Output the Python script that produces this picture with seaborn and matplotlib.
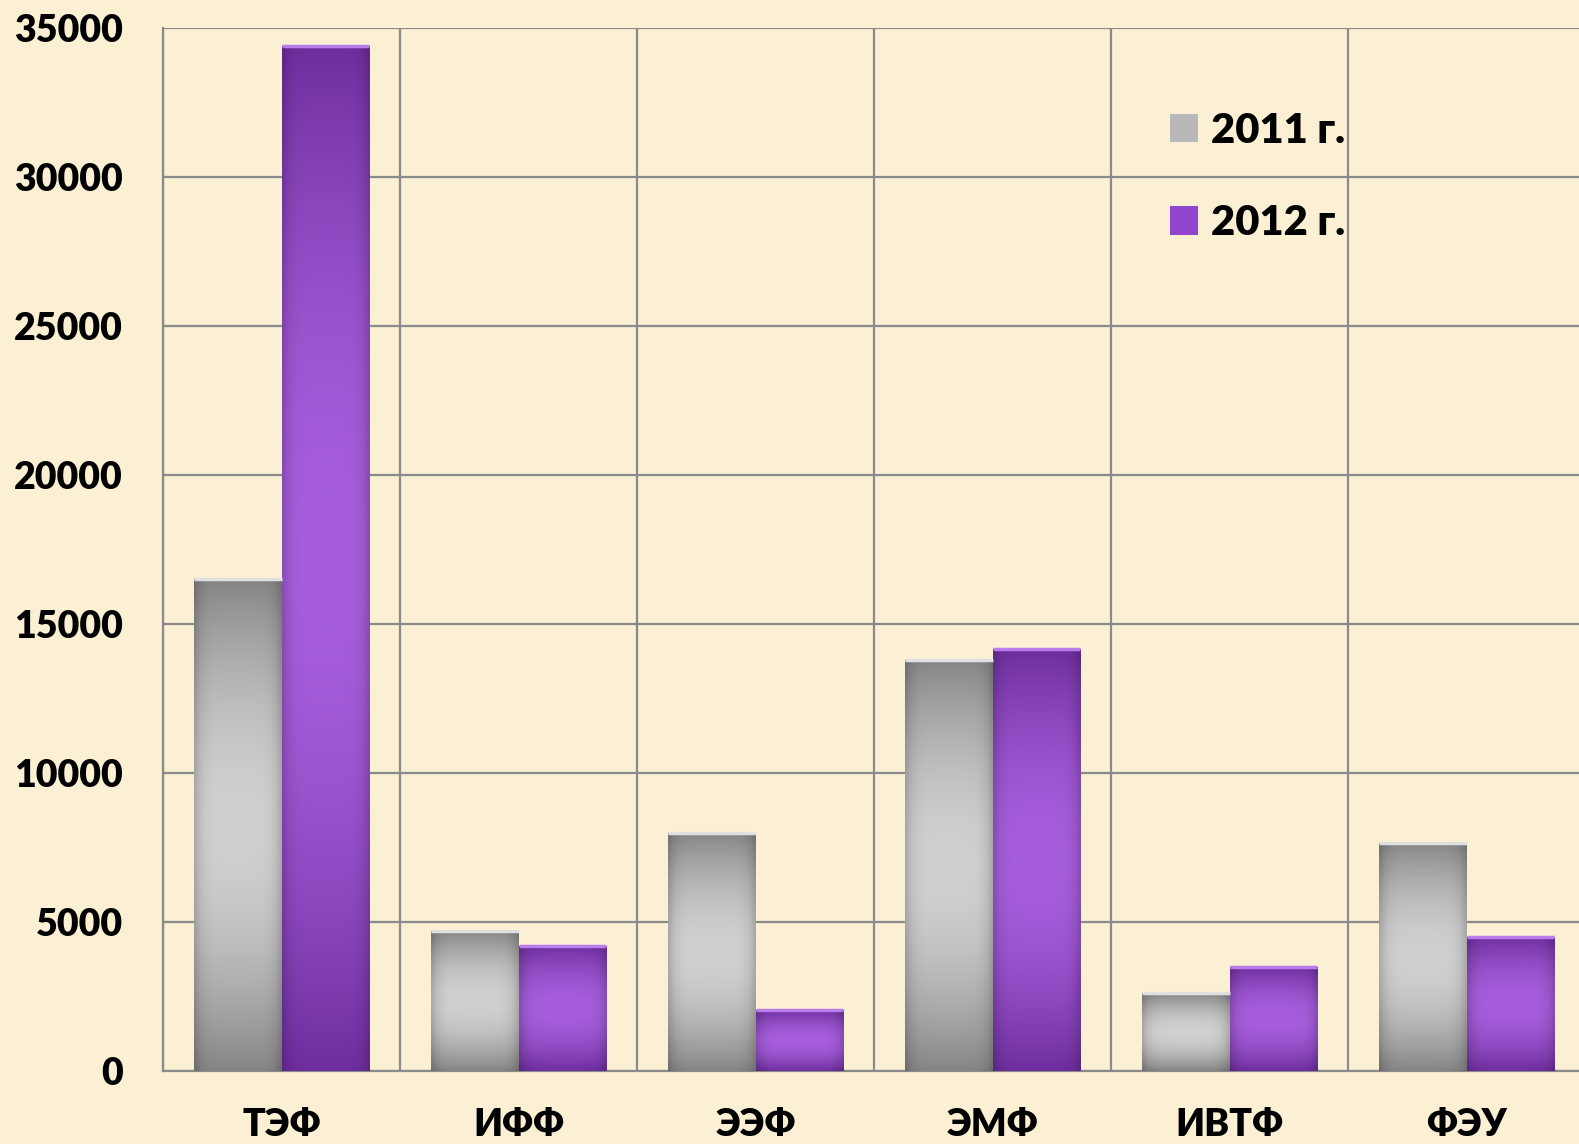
import numpy as np
import pandas as pd
import matplotlib
matplotlib.use("Agg")
import matplotlib.pyplot as plt
import seaborn as sns
from matplotlib.patches import Patch

faculties = ["ТЭФ", "ИФФ", "ЭЭФ", "ЭМФ", "ИВТФ", "ФЭУ"]
years = ["2011 г.", "2012 г."]
values_2011 = [16500, 4700, 8000, 13800, 2600, 7650]
values_2012 = [34400, 4200, 2030, 14150, 3500, 4500]
yticks = [0, 5000, 10000, 15000, 20000, 25000, 30000, 35000]

df = pd.DataFrame({
    "faculty": faculties * 2,
    "year": [years[0]] * len(faculties) + [years[1]] * len(faculties),
    "value": values_2011 + values_2012,
})

sns.set_theme(style="white")
plt.rcParams["font.family"] = ["Lato", "DejaVu Sans"]
plt.rcParams["text.color"] = "black"

W, H = 1579, 1144
bg = "#FBF0D4"
grid_c = "#8A8A8A"
fig = plt.figure(figsize=(W / 100, H / 100), dpi=100)
fig.patch.set_facecolor(bg)
left, bottom, top = 163, 1071, 27.7
ax = fig.add_axes([left / W, (H - bottom) / H, 1 - left / W, (bottom - top) / H])
ax.set_facecolor(bg)

gray_mid = "#ABABAB"
purple_mid = "#8E44C8"
sns.barplot(data=df, x="faculty", y="value", hue="year", palette=[gray_mid, purple_mid],
            width=0.74, gap=0, saturation=1, ax=ax, legend=False, zorder=3,
            edgecolor="none", linewidth=0)

cat_px = 237
ax.set_xlim(-0.5, -0.5 + (W - left) / cat_px)
ax.set_ylim(0, 35000)
ax.set_yticks(yticks)
ax.set_yticklabels([str(v) for v in yticks])
ax.set_xticks(range(len(faculties)))
ax.set_xticklabels(faculties)
ax.set_xticks([i - 0.5 for i in range(len(faculties) + 1)], minor=True)
ax.grid(axis="y", which="major", color=grid_c, linewidth=1.6, zorder=0)
ax.grid(axis="x", which="minor", color=grid_c, linewidth=1.6, zorder=0)
ax.set_axisbelow(True)
ax.tick_params(axis="both", which="both", length=0)
ax.tick_params(axis="y", pad=29)
ax.tick_params(axis="x", pad=27)
for lab in ax.get_yticklabels() + ax.get_xticklabels():
    lab.set_fontsize(27)
    lab.set_fontweight("heavy")
    lab.set_color("black")
ax.set_xlabel("")
ax.set_ylabel("")
for s in ["top", "right"]:
    ax.spines[s].set_visible(False)
for s in ["left", "bottom"]:
    ax.spines[s].set_color(grid_c)
    ax.spines[s].set_linewidth(1.6)

# gradient shading on each bar
def shade(dark, light):
    dark = np.array(matplotlib.colors.to_rgb(dark))
    light = np.array(matplotlib.colors.to_rgb(light))
    n, m = 200, 40
    t = np.linspace(0, 1, n)[:, None]
    s = np.linspace(0, 1, m)[None, :]
    f = np.sin(np.pi * t) ** 0.9
    img = dark + (light - dark) * f[..., None]
    edge = 1 - 0.18 * np.abs(2 * s - 1) ** 6
    img = img * edge[..., None]
    return np.clip(img, 0, 1)

gray_img = shade("#858585", "#D0D0D0")
purple_img = shade("#6E2E9E", "#A65EDC")
mid_gray = np.array(matplotlib.colors.to_rgb(gray_mid))
for p in ax.patches:
    h = p.get_height()
    if h <= 0:
        continue
    fc = np.array(p.get_facecolor()[:3])
    img = gray_img if np.allclose(fc, mid_gray, atol=0.05) else purple_img
    x0, y0, w = p.get_x(), p.get_y(), p.get_width()
    im = ax.imshow(img, extent=[x0, x0 + w, y0, y0 + h], aspect="auto",
                   origin="upper", zorder=4, interpolation="bilinear")
    im.set_clip_path(p)
    ax.plot([x0, x0 + w], [y0 + h, y0 + h], color="#E0E0E0" if img is gray_img else "#B97CEB",
            linewidth=2.5, zorder=5, solid_capstyle="butt")
ax.set_xlim(-0.5, -0.5 + (W - left) / cat_px)
ax.set_ylim(0, 35000)

handles = [Patch(facecolor="#B8B8B8", edgecolor="none"),
           Patch(facecolor="#9046CC", edgecolor="none")]
leg = fig.legend(handles, years, loc="upper left", bbox_to_anchor=(1170 / W, 1 - 112 / H),
                 bbox_transform=fig.transFigure, frameon=False, borderpad=0, borderaxespad=0,
                 handlelength=0.66, handleheight=0.66, handletextpad=0.32, labelspacing=1.3,
                 prop={"weight": "heavy", "size": 30})
for t in leg.get_texts():
    t.set_color("black")

fig.savefig("out.png", dpi=100, facecolor=bg)
